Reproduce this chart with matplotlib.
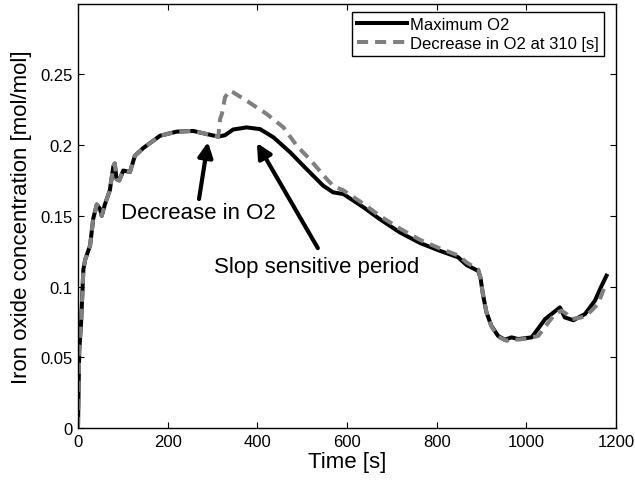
import matplotlib
matplotlib.use("Agg")
import matplotlib.pyplot as plt

plt.rcParams['font.family'] = ['Liberation Sans', 'DejaVu Sans']
plt.rcParams['lines.scale_dashes'] = False

# Iron oxide concentration with the maximum O2 supply
t_max = [0, 2.7, 7, 12, 16, 27, 34, 42, 49, 53, 60, 71, 79, 82, 86, 92, 101, 116,
         127, 146, 183, 220, 257, 287, 313, 328, 346, 376, 406, 436, 473, 510, 547,
         569, 592, 637, 673, 718, 763, 807, 848, 867, 893, 898, 903, 911, 922, 937,
         952, 967, 982, 1012, 1023, 1042, 1075, 1086, 1105, 1131, 1153, 1168, 1179]
c_max = [0, 0.054, 0.075, 0.112, 0.119, 0.129, 0.148, 0.158, 0.155, 0.150, 0.158,
         0.168, 0.185, 0.187, 0.176, 0.175, 0.182, 0.181, 0.1925, 0.198, 0.2066,
         0.2095, 0.210, 0.2078, 0.206, 0.207, 0.211, 0.2125, 0.2113, 0.2055, 0.195,
         0.183, 0.1713, 0.1666, 0.1654, 0.156, 0.1477, 0.1383, 0.1308, 0.1253, 0.1207,
         0.1152, 0.111, 0.106, 0.095, 0.082, 0.0723, 0.0652, 0.0624, 0.0641, 0.0629,
         0.0641, 0.0688, 0.077, 0.0853, 0.0782, 0.0762, 0.0806, 0.090, 0.1006, 0.1077]

# Iron oxide concentration when O2 is decreased at 310 s
t_dec = [0, 2.7, 7, 12, 16, 27, 34, 42, 49, 53, 60, 71, 79, 82, 86, 92, 101, 116,
         127, 146, 183, 220, 257, 287, 313, 317, 321, 328, 338, 345, 376, 421, 458,
         488, 517, 555, 570, 592, 637, 673, 718, 763, 807, 848, 867, 893, 898, 903,
         911, 922, 937, 956, 967, 982, 1008, 1027, 1038, 1064, 1078, 1090, 1101, 1123,
         1134, 1160, 1175, 1183]
c_dec = [0, 0.054, 0.075, 0.112, 0.119, 0.129, 0.148, 0.158, 0.155, 0.150, 0.158,
         0.168, 0.185, 0.187, 0.176, 0.175, 0.182, 0.181, 0.1925, 0.198, 0.2066,
         0.2095, 0.210, 0.2078, 0.206, 0.2184, 0.222, 0.2338, 0.2384, 0.2375, 0.2314,
         0.222, 0.2126, 0.1996, 0.190, 0.176, 0.171, 0.168, 0.1585, 0.150, 0.141,
         0.133, 0.127, 0.122, 0.117, 0.112, 0.106, 0.095, 0.082, 0.072, 0.0645, 0.0617,
         0.063, 0.0625, 0.0636, 0.0652, 0.070, 0.0806, 0.083, 0.0806, 0.077, 0.0782,
         0.0794, 0.0877, 0.100, 0.102]

x_ticks = [0, 200, 400, 600, 800, 1000, 1200]
y_ticks = [0, 0.05, 0.1, 0.15, 0.2, 0.25]
y_tick_labels = ['0', '0.05', '0.1', '0.15', '0.2', '0.25']

fig = plt.figure(figsize=(6.35, 4.81), dpi=100)
ax = fig.add_axes([0.1228, 0.108, 0.8472, 0.8824])

ax.plot(t_max, c_max, color='black', lw=2.9, solid_joinstyle='round',
        label='Maximum O2')
ax.plot(t_dec, c_dec, color='#808080', lw=2.9, dashes=(8, 5),
        label='Decrease in O2 at 310 [s]')

ax.set_xlim(0, 1200)
ax.set_ylim(0, 0.3)
ax.set_xticks(x_ticks)
ax.set_yticks(y_ticks)
ax.set_yticklabels(y_tick_labels)
ax.tick_params(direction='in', top=True, right=True, length=4, width=0.8,
               labelsize=12, pad=4)
for s in ax.spines.values():
    s.set_linewidth(1.0)

ax.set_xlabel('Time [s]', fontsize=16, labelpad=2)
ax.set_ylabel('Iron oxide concentration [mol/mol]', fontsize=16, labelpad=6)

arrow = dict(arrowstyle='-|>', lw=3, color='black', mutation_scale=22,
             shrinkA=0, shrinkB=0)
ax.annotate('', xy=(290, 0.2022), xytext=(270, 0.1619), arrowprops=arrow)
ax.annotate('', xy=(399, 0.2015), xytext=(535, 0.1272), arrowprops=arrow)
ax.text(267.7, 0.1527, 'Decrease in O2', fontsize=16, ha='center', va='center')
ax.text(532, 0.1145, 'Slop sensitive period', fontsize=16, ha='center', va='center')

leg = ax.legend(loc='upper right', bbox_to_anchor=(0.9777, 0.981), borderaxespad=0,
                fontsize=12, handlelength=3.0, handletextpad=0.2, borderpad=0.3,
                labelspacing=0.25, fancybox=False, framealpha=1)
leg.get_frame().set_edgecolor('black')
leg.get_frame().set_linewidth(1.0)

fig.savefig('out.png', dpi=100)
